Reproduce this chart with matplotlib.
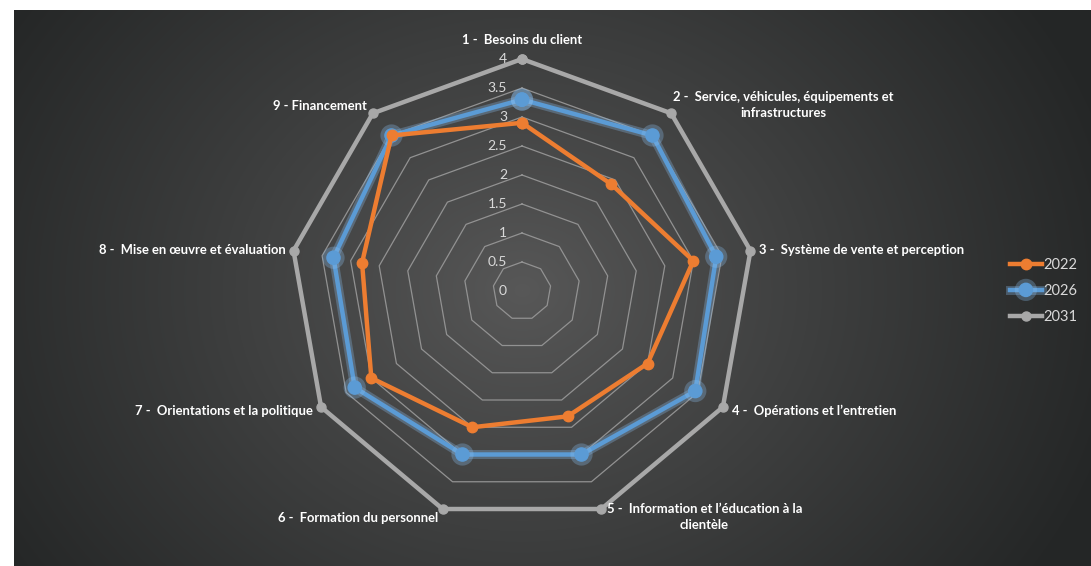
import numpy as np
import matplotlib.pyplot as plt
import matplotlib.patheffects as pe

# =========================
# données
# =========================
categories = [
    "1 -  Besoins du client",
    "2 -  Service, véhicules, équipements et\ninfrastructures",
    "3 -  Système de vente et perception",
    "4 -  Opérations et l’entretien",
    "5 -  Information et l’éducation à la\nclientèle",
    "6 -  Formation du personnel",
    "7 -  Orientations et la politique",
    "8 -  Mise en œuvre et évaluation",
    "9 - Financement",
]
v2022 = [2.9, 2.4, 3.0, 2.5, 2.3, 2.5, 3.0, 2.8, 3.5]
v2026 = [3.3, 3.5, 3.4, 3.45, 3.0, 3.0, 3.33, 3.3, 3.5]
v2031 = [4, 4, 4, 4, 4, 4, 4, 4, 4]
levels = [0.5, 1, 1.5, 2, 2.5, 3, 3.5, 4]
tick_labels = ["0", "0.5", "1", "1.5", "2", "2.5", "3", "3.5", "4"]

plt.rcParams["font.family"] = ["Lato", "DejaVu Sans"]

W, H = 1091, 566
fig = plt.figure(figsize=(W / 100, H / 100), dpi=100, facecolor="white")

# =========================
# fond (dégradé radial)
# =========================
bg = fig.add_axes([14 / W, 0, 1 - 14 / W, (H - 10) / H])
bw, bh = W - 14, H - 10
yy, xx = np.mgrid[0:bh, 0:bw]
cx, cy = 522 - 14, 290 - 10
d = np.sqrt(((xx - cx) / 620.0) ** 2 + ((yy - cy) / 520.0) ** 2)
d = np.clip(d, 0, 1)
c0 = np.array([0x58, 0x58, 0x58]) / 255
c1 = np.array([0x24, 0x26, 0x26]) / 255
img = c0 + (c1 - c0) * (d[..., None] ** 0.9)
bg.imshow(img, aspect="auto", interpolation="bilinear")
bg.set_axis_off()

# =========================
# radar
# =========================
R = 232
ax = fig.add_axes([(522 - R) / W, (H - 291 - R) / H, 2 * R / W, 2 * R / H],
                  projection="polar")
ax.set_theta_zero_location("N")
ax.set_theta_direction(-1)
ax.set_ylim(0, 4)
ax.patch.set_visible(False)
ax.spines["polar"].set_visible(False)
ax.grid(False)
ax.set_xticks([])
ax.set_yticks([])

n = len(categories)
theta = np.linspace(0, 2 * np.pi, n, endpoint=False)
tc = np.append(theta, theta[0])

for lv in levels:
    ax.plot(tc, [lv] * (n + 1), color="#929292", lw=0.9, zorder=1)

for lab, lv in zip(tick_labels, [0] + levels):
    ax.annotate(lab, xy=(0, lv), xytext=(-15, 0), textcoords="offset pixels",
                ha="right", va="center", color="#d9d9d9", fontsize=10,
                zorder=2)


def closed(v):
    return list(v) + [v[0]]


ax.plot(tc, closed(v2031), color="#a8a8a8", lw=3.2, marker="o", ms=6.5,
        clip_on=False, zorder=3, label="2031")
blue, = ax.plot(tc, closed(v2026), color="#5b9bd5", lw=3.2, marker="o",
                ms=9.5, clip_on=False, zorder=4, label="2026")
blue.set_path_effects([pe.Stroke(linewidth=6.5, foreground="#8cc0f0", alpha=0.3),
                       pe.Normal()])
ax.plot(tc, closed(v2022), color="#ed7d31", lw=3.2, marker="o", ms=7.5,
        clip_on=False, zorder=5, label="2022")

# étiquettes des axes
offsets = [(0, 19, "center"), (112, 8, "center"), (9, 1, "left"),
           (9, -4, "left"), (103, -8, "center"), (-4, -9, "right"),
           (-8, -4, "right"), (-8, 1, "right"), (-6, 7, "right")]
for t, lab, (dx, dy, ha) in zip(theta, categories, offsets):
    ax.annotate(lab, xy=(t, 4), xytext=(dx, dy), textcoords="offset pixels",
                ha=ha, va="center", multialignment="center", color="white",
                fontsize=9.4, fontweight="bold", annotation_clip=False,
                linespacing=1.4, zorder=6)

# légende
h, l = ax.get_legend_handles_labels()
order = [2, 1, 0]
leg = fig.legend([h[i] for i in order], [l[i] for i in order],
                 loc="center left", bbox_to_anchor=(1004 / W, 1 - 291 / H),
                 frameon=False, fontsize=10.5, labelcolor="#d9d9d9",
                 handlelength=2.2, handletextpad=0.1, labelspacing=0.8,
                 borderaxespad=0)

plt.savefig("out.png", dpi=100, facecolor="white")
